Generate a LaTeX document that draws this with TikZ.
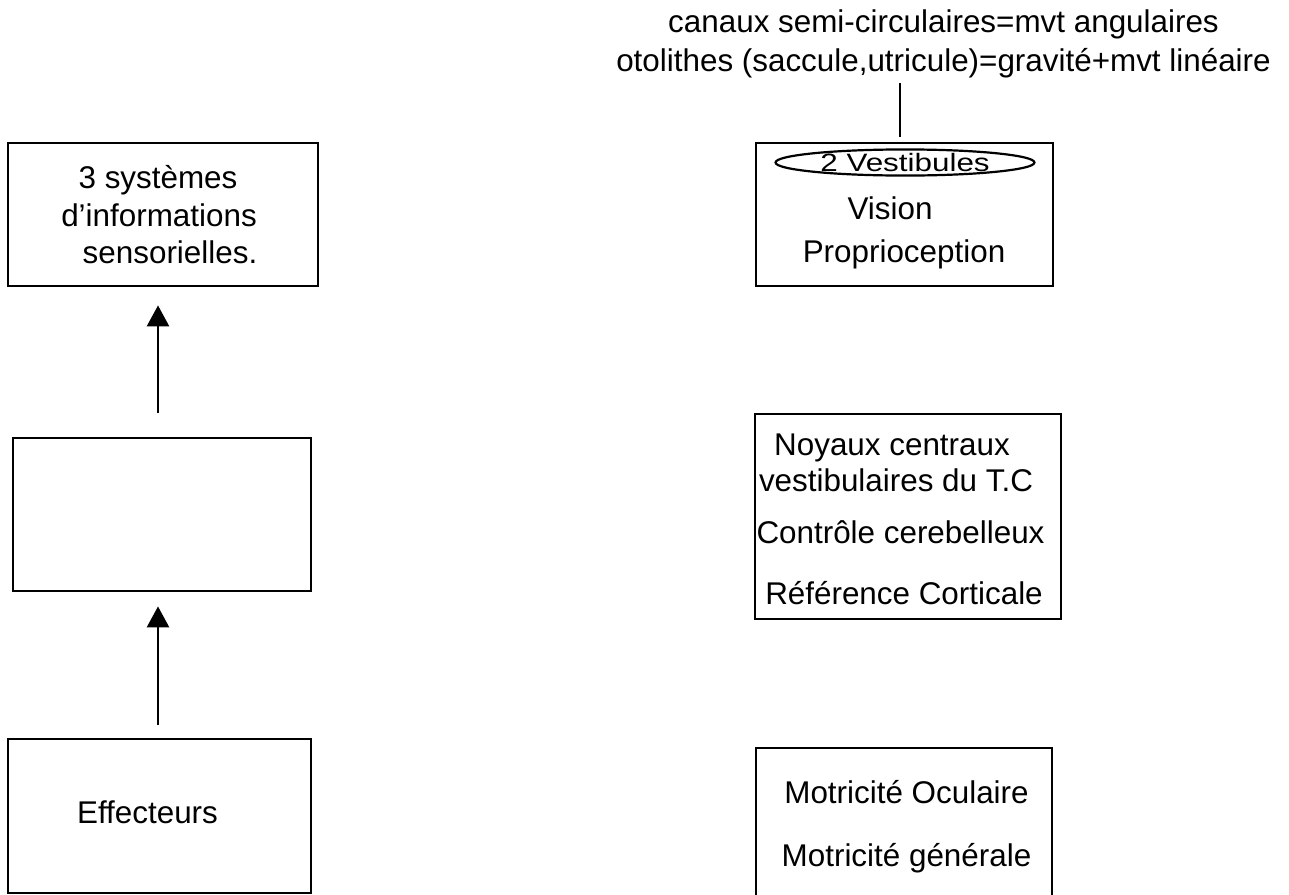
\documentclass[tikz,border=0pt]{standalone}
\usepackage{fontspec}
\setmainfont{Liberation Sans}
\usetikzlibrary{arrows.meta,positioning,shapes.geometric}

\begin{document}
\begin{tikzpicture}[x=0.5pt, y=-0.5pt,
    font=\fontsize{15.7}{19.5}\selectfont,
    box/.style={draw, line width=1.4pt, inner sep=0pt},
    txt/.style={anchor=base, inner sep=0pt},
    fleche/.style={-{Triangle[length=10.5pt,width=11pt]}, line width=1.4pt}]
    \useasboundingbox (0,0) rectangle (1289,894);

    % Colonne gauche
    \node[box, minimum width=155pt, minimum height=71.5pt] (sens) at (163,214.5) {};
    \node[txt] (sens1) at (158,188) {3 systèmes};
    \node[txt] (sens2) at (159,226) {d’informations};
    \node[txt] (sens3) at (170,263) {sensorielles.};

    \node[box, minimum width=149pt, minimum height=76.5pt] (ctrl) at (162,514.5) {};

    \node[box, minimum width=151.5pt, minimum height=77pt] (eff) at (159.5,816) {};
    \node[txt] (efftxt) at (147.5,823) {Effecteurs};

    \draw[fleche, shorten <=12pt, shorten >=9pt] ([xshift=-2pt]ctrl.north) -- ([xshift=-2pt]ctrl.north |- sens.south);
    \draw[fleche, shorten <=6.5pt, shorten >=7pt] ([xshift=-0.75pt]eff.north) -- ([xshift=-0.75pt]eff.north |- ctrl.south);

    % Colonne droite
    \node[txt, align=center] (otol) at (943.5,71) {canaux semi-circulaires=mvt angulaires\\otolithes (saccule,utricule)=gravité+mvt linéaire};

    \node[box, minimum width=148.5pt, minimum height=71.5pt] (entr) at (904.5,214.5) {};
    \node[ellipse, draw, line width=1.1pt, inner sep=0pt, minimum width=129.5pt, minimum height=10.5pt] (vest) at (905,162.5) {\scalebox{1}[0.8]{2 Vestibules}};
    \node[txt] (vision) at (890,219) {Vision};
    \node[txt] (proprio) at (904,262) {Proprioception};

    \coordinate (vhaut) at (900,83);
    \draw[line width=1.3pt, shorten >=2.5pt] (vhaut) -- (vhaut |- entr.north);

    \node[box, minimum width=153pt, minimum height=102.5pt] (noy) at (908,516.5) {};
    \node[txt] (noy1) at (892,455) {Noyaux centraux};
    \node[txt] (noy2) at (896,491) {vestibulaires du T.C};
    \node[txt] (cereb) at (900.5,543) {Contrôle cerebelleux};
    \node[txt] (cort) at (904,604) {Référence Corticale};

    \node[box, minimum width=148pt, minimum height=76pt] (mot) at (904,824) {};
    \node[txt] (oculo) at (906.5,803) {Motricité Oculaire};
    \node[txt] (gen) at (906.5,866) {Motricité générale};
\end{tikzpicture}
\end{document}
